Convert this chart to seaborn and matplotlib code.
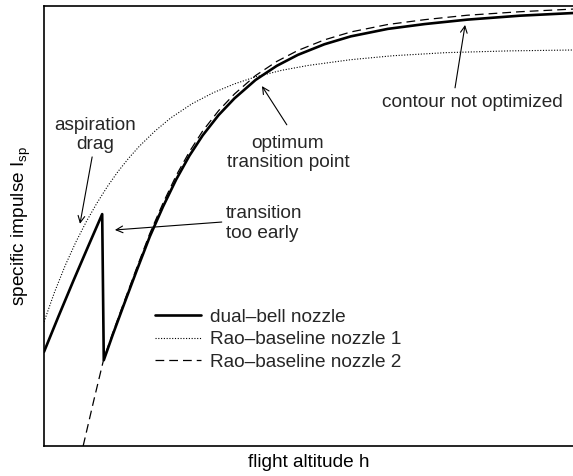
import matplotlib
matplotlib.use('Agg')
import matplotlib.pyplot as plt
import seaborn as sns

# altitude / Isp in arbitrary units (0..100)
dual_bell_h = [0, 2.75, 5.5, 8.25, 11.0, 11.3, 13, 15, 17.5, 20, 22.5, 25, 27.5,
               30, 33, 36, 40, 44, 48, 53, 58, 65, 72, 80, 90, 100]
dual_bell_isp = [21.4, 29.5, 37.4, 45.1, 52.7, 19.5, 25.3, 31.8, 39.8, 47.6, 54.4,
                 60.6, 66.0, 70.6, 75.2, 79.0, 83.2, 86.4, 88.9, 91.3, 93.1, 94.8,
                 95.9, 96.9, 97.8, 98.4]

rao1_h = [0, 2, 4, 6, 8, 10, 12, 14, 16, 18, 21, 24, 28, 32, 36, 40, 45, 50,
          58, 66, 76, 88, 100]
rao1_isp = [28.2, 35.0, 41.0, 46.3, 51.0, 55.2, 59.0, 62.4, 65.4, 68.1, 71.6,
            74.6, 77.8, 80.3, 82.3, 83.9, 85.4, 86.5, 87.8, 88.7, 89.4, 89.8, 90.0]

rao2_h = [7.4, 9.4, 11.3, 13, 15, 17.5, 20, 22.5, 25, 27.5, 30, 33, 36, 40, 44,
          48, 53, 58, 65, 72, 80, 90, 100]
rao2_isp = [0, 10.3, 19.8, 25.7, 32.3, 40.4, 48.3, 55.2, 61.5, 66.9, 71.6, 76.2,
            80.0, 84.2, 87.4, 89.9, 92.3, 94.1, 95.8, 96.9, 97.9, 98.7, 99.3]

labels = ['dual\u2013bell nozzle', 'Rao\u2013baseline nozzle 1', 'Rao\u2013baseline nozzle 2']

sns.set_theme(style='white')
plt.rcParams['font.family'] = ['Liberation Sans', 'DejaVu Sans']
fs = 13.7

fig = plt.figure(figsize=(5.73, 4.76), dpi=100)
ax = fig.add_axes([44 / 573, 30 / 476, 529 / 573, 440 / 476])

sns.lineplot(x=dual_bell_h, y=dual_bell_isp, sort=False, estimator=None, ax=ax,
             color='black', lw=1.9, label=labels[0])
sns.lineplot(x=rao1_h, y=rao1_isp, sort=False, estimator=None, ax=ax,
             color='black', lw=0.8, linestyle=(0, (1, 1.5)), label=labels[1])
sns.lineplot(x=rao2_h, y=rao2_isp, sort=False, estimator=None, ax=ax,
             color='black', lw=0.9, linestyle=(0, (7, 4)), label=labels[2])

ax.set_xlim(0, 100)
ax.set_ylim(0, 100)
ax.set_xticks([])
ax.set_yticks([])
for side in ['left', 'bottom', 'top']:
    ax.spines[side].set_color('black')
    ax.spines[side].set_linewidth(1.2)
ax.spines['right'].set_visible(False)

ax.set_xlabel('flight altitude h', fontsize=fs, color='black', labelpad=6)
ax.set_ylabel(r'specific impulse $\mathregular{I_{sp}}$', fontsize=fs,
              color='black', labelpad=8)

arrow = dict(arrowstyle='->', color='black', lw=0.8, shrinkA=0, shrinkB=0)
ax.text(9.6, 70.7, 'aspiration\ndrag', fontsize=fs, ha='center', va='center')
ax.annotate('', xy=(6.8, 50.5), xytext=(9.1, 65.7), arrowprops=arrow)
ax.text(34.4, 50.5, 'transition\ntoo early', fontsize=fs, ha='left', va='center')
ax.annotate('', xy=(13.4, 49.1), xytext=(33.6, 50.9), arrowprops=arrow)
ax.text(46.1, 66.6, 'optimum\ntransition point', fontsize=fs, ha='center', va='center')
ax.annotate('', xy=(41.2, 81.8), xytext=(45.9, 73.0), arrowprops=arrow)
ax.text(80.9, 78.0, 'contour not optimized', fontsize=fs, ha='center', va='center')
ax.annotate('', xy=(79.6, 95.7), xytext=(77.7, 81.4), arrowprops=arrow)

ax.legend(frameon=False, loc='upper left', bbox_to_anchor=(0.21, 0.313),
          fontsize=fs, handlelength=2.4, handletextpad=0.5, labelspacing=0.28,
          borderpad=0, borderaxespad=0)

fig.savefig('out.png', dpi=100)
